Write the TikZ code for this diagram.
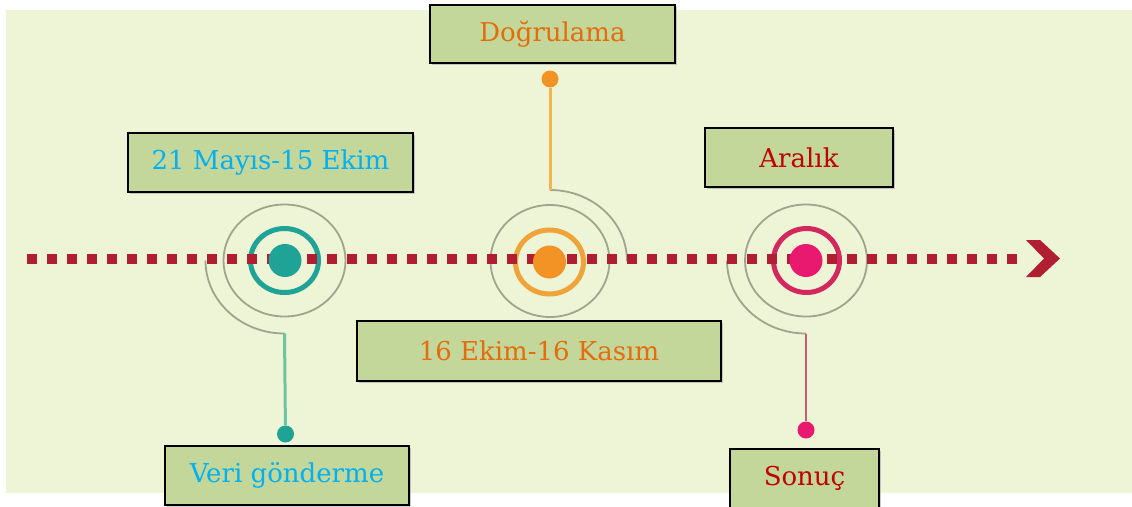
\documentclass[tikz,border=0pt]{standalone}
\usepackage{fontspec}
\setmainfont{DejaVu Serif}
\usetikzlibrary{shadows}
\definecolor{bgc}{HTML}{EEF4D6}
\definecolor{boxc}{HTML}{C4D79B}
\definecolor{cyanT}{HTML}{00B0F0}
\definecolor{orangeT}{HTML}{E46C0A}
\definecolor{redT}{HTML}{C00000}
\definecolor{dotline}{HTML}{B01E32}
\definecolor{ringgray}{HTML}{9FA58C}
\definecolor{tealC}{HTML}{1EA396}
\definecolor{tealL}{HTML}{6CC4A2}
\definecolor{orangeC}{HTML}{F39325}
\definecolor{orangeR}{HTML}{EFA43A}
\definecolor{orangeL}{HTML}{F3B54A}
\definecolor{pinkC}{HTML}{E8196E}
\definecolor{pinkR}{HTML}{D2285E}
\definecolor{pinkL}{HTML}{C65B74}
\tikzset{
  labelbox/.style={draw=black, line width=1.8pt, fill=boxc, inner sep=0pt,
    font=\fontsize{26}{30}\selectfont,
    drop shadow={shadow xshift=1.5pt, shadow yshift=-1.5pt, fill=black!35, opacity=0.6}},
  grayring/.style={draw=ringgray, line width=1.8pt},
  centerdot/.style={circle, inner sep=0pt, minimum width=33pt},
  enddot/.style={circle, inner sep=0pt, minimum width=17pt},
}
\begin{document}
\begin{tikzpicture}[x=1pt,y=-1pt]
\useasboundingbox (0,0) rectangle (1132,506);
\fill[bgc] (6,10) rectangle (1132,493);

% ---- left (teal) ----
\draw[grayring] (284.5,260.5) ellipse [x radius=61pt, y radius=56pt];
\draw[grayring] (205.5,260.5) arc[start angle=180, end angle=270, x radius=79pt, y radius=73pt] coordinate (a1);
\draw[tealC, line width=5pt] (284.5,260.5) ellipse [x radius=34pt, y radius=32pt];
% ---- middle (orange) ----
\draw[grayring] (550,261) ellipse [x radius=59.5pt, y radius=56pt];
\draw[grayring] (550,190) coordinate (a2) arc[start angle=90, end angle=0, x radius=77pt, y radius=71pt];
\draw[orangeR, line width=5pt] (549.5,262) ellipse [x radius=34pt, y radius=32pt];
% ---- right (pink) ----
\draw[grayring] (806,260.5) ellipse [x radius=61pt, y radius=56pt];
\draw[grayring] (727,260.5) arc[start angle=180, end angle=270, x radius=79pt, y radius=73pt] coordinate (a3);
\draw[pinkR, line width=5pt] (806.5,260.5) ellipse [x radius=33pt, y radius=32pt];

% ---- dotted timeline ----
\draw[dotline, line width=10pt, dash pattern=on 10pt off 10pt] (27,258.5) -- (1027,258.5);
\fill[dotline] (1026,240) -- (1040,240) -- (1060,258.5) -- (1040,277) -- (1026,277) -- (1044,258.5) -- cycle;

% ---- center dots ----
\node[centerdot, fill=tealC] (c1) at (285,260.5) {};
\node[centerdot, fill=orangeC] (c2) at (549.5,262) {};
\node[centerdot, fill=pinkC] (c3) at (806,260.5) {};

% ---- end dots and stems ----
\node[enddot, fill=tealC] (e1) at (285.5,434) {};
\node[enddot, fill=orangeC] (e2) at (550,79) {};
\node[enddot, fill=pinkC] (e3) at (806,430) {};
\draw[tealL, line width=3pt] (a1) -- (e1);
\draw[orangeL, line width=3pt] (a2) -- (e2);
\draw[pinkL, line width=2.4pt] (a3) -- (e3);

% ---- label boxes ----
\node[labelbox, text=orangeT, minimum width=245pt, minimum height=58pt] (b1) at (552.5,34) {Doğrulama};
\node[labelbox, text=cyanT, minimum width=285pt, minimum height=59pt] (b2) at (270.5,162.5) {21 Mayıs-15 Ekim};
\node[labelbox, text=redT, minimum width=188pt, minimum height=59pt] (b3) at (799,157.5) {Aralık};
\node[labelbox, text=orangeT, minimum width=364pt, minimum height=60pt] (b4) at (539,351) {16 Ekim-16 Kasım};
\node[labelbox, text=cyanT, minimum width=244pt, minimum height=59pt] (b5) at (287,475.5) {Veri gönderme};
\node[labelbox, text=redT, minimum width=149pt, minimum height=59pt] (b6) at (804.5,478.5) {Sonuç};
\end{tikzpicture}
\end{document}
